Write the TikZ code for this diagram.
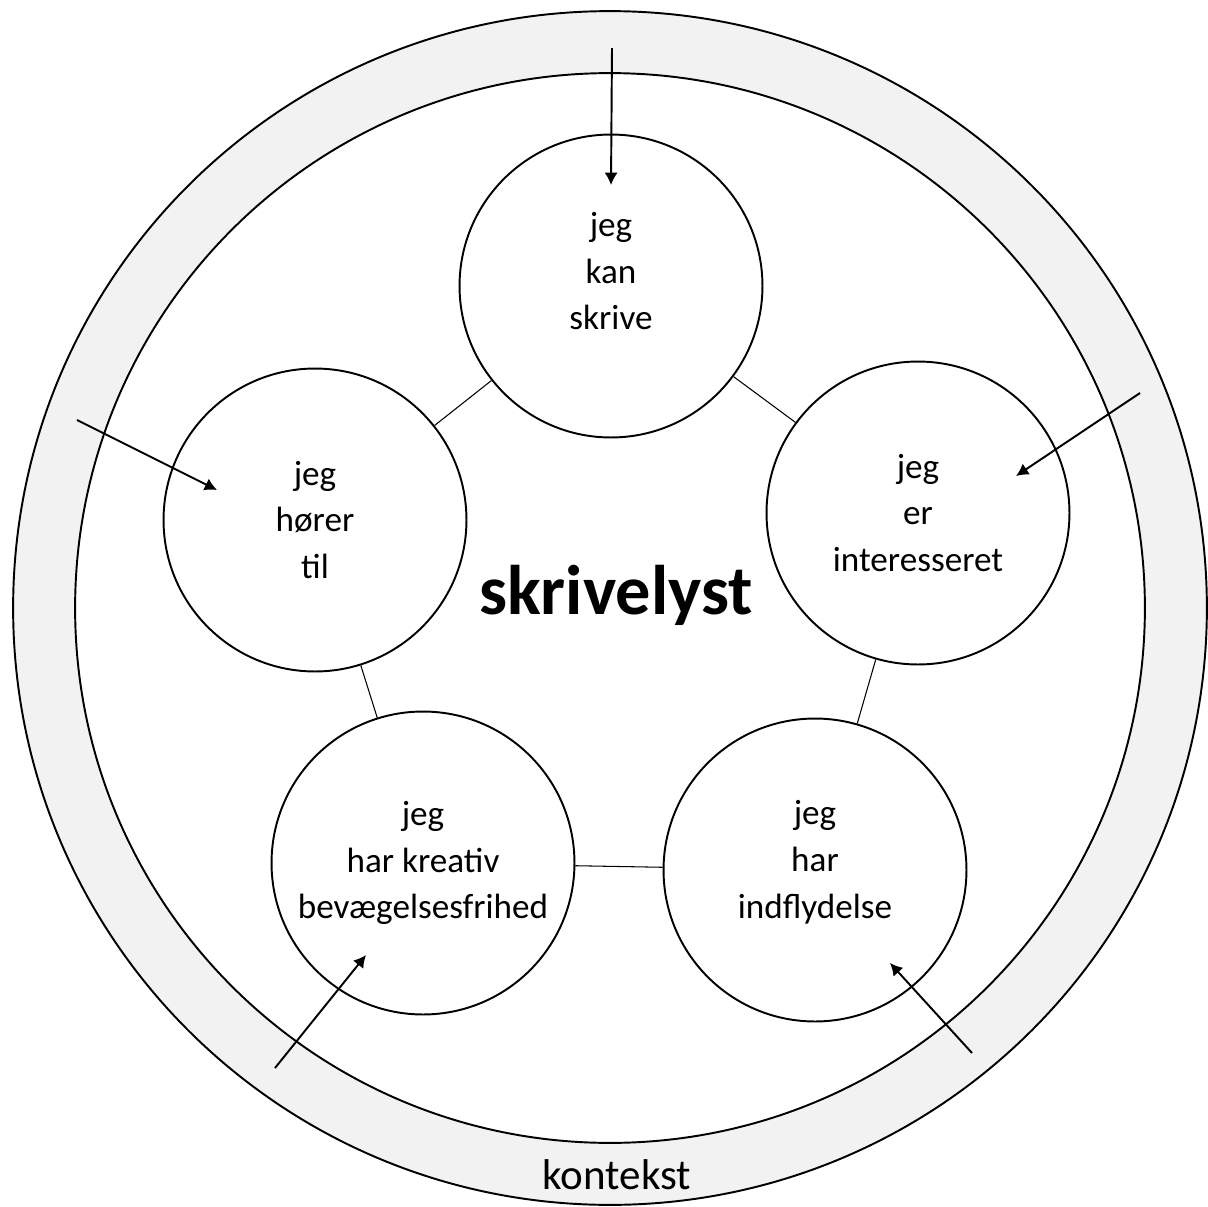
\documentclass[tikz,border=0pt]{standalone}
\usepackage{fontspec}
\setmainfont{Carlito}
\usetikzlibrary{arrows.meta}
\definecolor{ringgray}{HTML}{F2F2F2}
\tikzset{
  mind/.style={draw, circle, line width=1.1pt, fill=white, minimum size=6.06cm,
    inner sep=0pt, align=center, font=\fontsize{20}{26.5}\selectfont},
  link/.style={line width=0.6pt},
  push/.style={->, line width=1.1pt},
}
\begin{document}
\begin{tikzpicture}[x=0.02cm, y=-0.02cm, line join=round, >={Latex[length=7pt,width=7.5pt]}]
  \useasboundingbox (0,0) rectangle (1208,1207);
  % context ring
  \draw[line width=1.1pt, fill=ringgray] (610,608) circle[radius=11.94cm];
  \draw[line width=1.1pt, fill=white] (610,608) circle[radius=10.7cm];
  \node[font=\fontsize{24.5}{28}\selectfont] (ctx) at (617,1175) {kontekst};
  \node[font=\bfseries\fontsize{40}{46}\selectfont] (lyst) at (616,595) {skrivelyst};
  % the five circles
  \node[mind, text depth=17pt] (kan) at (611,286) {jeg\\kan\\skrive};
  \node[mind] (hoer) at (315,520) {jeg\\hører\\til};
  \node[mind] (inter) at (918,513) {jeg\\er\\interesseret};
  \node[mind] (krea) at (423,863) {jeg\\har kreativ\\bevægelsesfrihed};
  \node[mind, text depth=12pt] (indf) at (815,870) {jeg\\har\\indflydelse};
  \draw[link] (kan) -- (hoer);
  \draw[link] (kan) -- (inter);
  \draw[link] (inter) -- (indf);
  \draw[link] (indf) -- (krea);
  \draw[link] (krea) -- (hoer);
  % arrows from the context
  \coordinate (a1) at (612,48);   \coordinate (b1) at (611,185);
  \coordinate (a2) at (77,420);   \coordinate (b2) at (217,490);
  \coordinate (a3) at (1140,393); \coordinate (b3) at (1016,476);
  \coordinate (a4) at (275,1068); \coordinate (b4) at (366,955);
  \coordinate (a5) at (972,1053); \coordinate (b5) at (890,963);
  \foreach \i in {1,...,5} \draw[push] (a\i) -- (b\i);
\end{tikzpicture}
\end{document}
